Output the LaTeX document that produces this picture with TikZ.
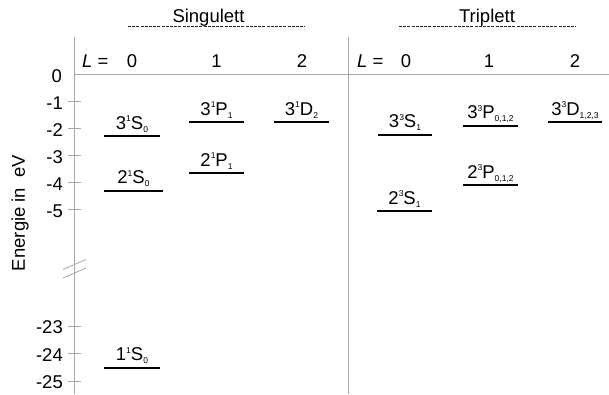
\documentclass[tikz,border=0pt]{standalone}
\usepackage{fontspec}
\setmainfont{Liberation Sans}
\newcommand{\lvl}[4]{#1\raisebox{7.5pt}{\fontsize{8.5}{9}\selectfont #2}#3\raisebox{-3pt}{\fontsize{8.5}{9}\selectfont #4}}
\begin{document}
\begin{tikzpicture}[x=1pt,y=-1pt,
  every node/.style={font=\fontsize{18.5}{20}\selectfont, inner sep=0pt},
  axisline/.style={draw=black!35, line width=0.8pt},
  tickmark/.style={draw=black!35, line width=0.8pt},
  lev/.style={draw=black, line width=2pt},
  lab/.style={midway, anchor=base, yshift=7pt},
  hdash/.style={draw=black!85, line width=0.9pt, dash pattern=on 3pt off 1.2pt},
  ticklab/.style={anchor=east}]
\useasboundingbox (0,0) rectangle (609,394);
% headers
\node[anchor=base] (sing) at (208.5,22) {Singulett};
\node[anchor=base] (trip) at (487,22) {Triplett};
\draw[hdash] (128,26) -- (305,26);
\draw[hdash] (399,26) -- (576,26);
% axes
\draw[axisline] (74,37) -- (74,394);
\draw[axisline] (348,37) -- (348,394);
\draw[axisline] (74,74.5) -- (609,74.5);
% break marks
\draw[axisline] (63,269.5) -- (86,259.5);
\draw[axisline] (63,278) -- (86,268);
% L headers
\node[anchor=base west] (Ls) at (82,67) {\textit{L} =};
\node[anchor=base] (s0) at (132,67) {0};
\node[anchor=base] (s1) at (216.5,67) {1};
\node[anchor=base] (s2) at (302,67) {2};
\node[anchor=base west] (Lt) at (357,67) {\textit{L} =};
\node[anchor=base] (t0) at (406,67) {0};
\node[anchor=base] (t1) at (489,67) {1};
\node[anchor=base] (t2) at (575,67) {2};
% ticks
\foreach \v/\y in {1/101.5,2/128.5,3/155.5,4/182.5,5/209.5,23/326,24/353.5,25/381}{
  \draw[tickmark] (68,\y) -- (81,\y);
  \node[ticklab] at (63,\y+1.5) {-\v};
}
\node[ticklab] (zero) at (62,76) {0};
% axis label
\node[rotate=90] (ylab) at (20,213) {Energie in\hspace{0.55em}eV};
% singlet levels
\draw[lev] (104,136) -- (160,136) node[lab] (a1) {\lvl{3}{1}{S}{0}};
\draw[lev] (104,190.5) -- (163,190.5) node[lab] (a2) {\lvl{2}{1}{S}{0}};
\draw[lev] (104,367.5) -- (160,367.5) node[lab] (a3) {\lvl{1}{1}{S}{0}};
\draw[lev] (189,122) -- (244,122) node[lab] (a4) {\lvl{3}{1}{P}{1}};
\draw[lev] (189,173) -- (244,173) node[lab] (a5) {\lvl{2}{1}{P}{1}};
\draw[lev] (274,122) -- (329,122) node[lab] (a6) {\lvl{3}{1}{D}{2}};
% triplet levels
\draw[lev] (378,134.5) -- (432,134.5) node[lab] (b1) {\lvl{3}{3}{S}{1}};
\draw[lev] (377,211) -- (432,211) node[lab] (b2) {\lvl{2}{3}{S}{1}};
\draw[lev] (463,125.5) -- (518,125.5) node[lab] (b3) {\lvl{3}{3}{P}{0,1,2}};
\draw[lev] (463,185) -- (518,185) node[lab] (b4) {\lvl{2}{3}{P}{0,1,2}};
\draw[lev] (548,122) -- (602,122) node[lab] (b5) {\lvl{3}{3}{D}{1,2,3}};
\end{tikzpicture}
\end{document}
